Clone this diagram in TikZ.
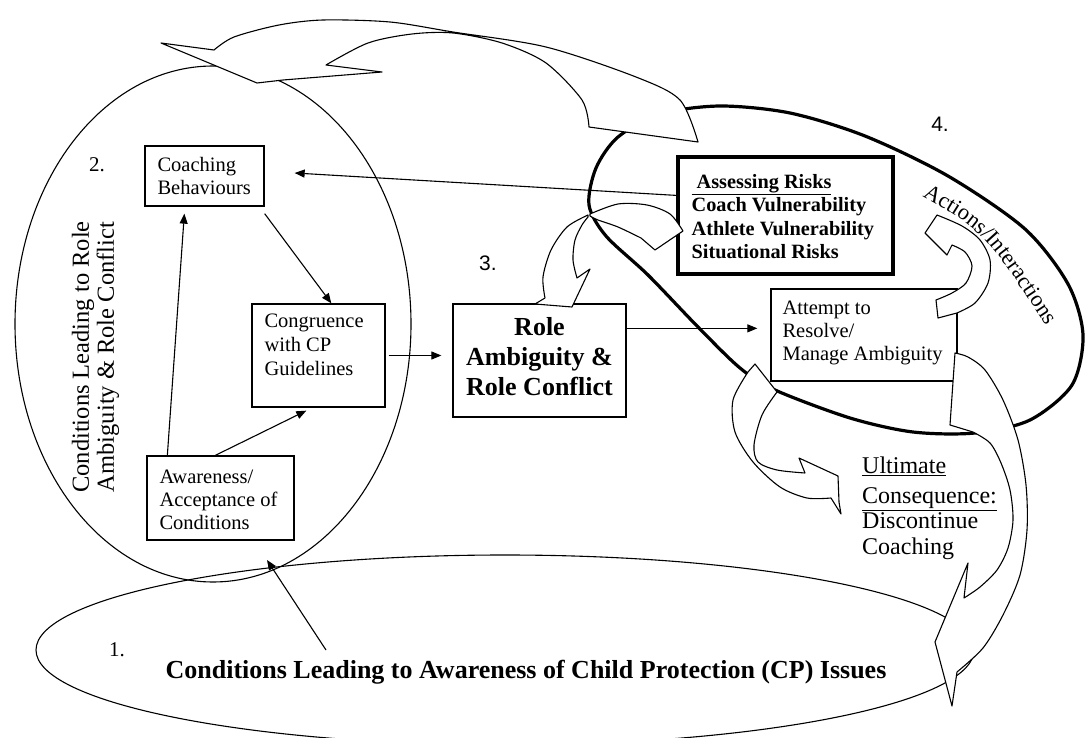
\documentclass[tikz,border=0pt]{standalone}
\usepackage{fontspec}
\setmainfont{Liberation Serif}
\newfontfamily\numsans{Liberation Sans}
\usetikzlibrary{arrows.meta,calc,decorations.text}

\begin{document}
\begin{tikzpicture}[x=1pt,y=-1pt,
  box/.style={draw, line width=1.3pt, fill=white, inner sep=0pt},
  thickbox/.style={box, line width=3.2pt},
  body/.style={font=\fontsize{20.5}{23}\selectfont, align=left, inner sep=0pt},
  conn/.style={line width=1.1pt, -{Triangle[length=10pt,width=8pt]}},
  blockarrow/.style={draw, fill=white, line width=1.1pt, line join=round},
  region/.style={line width=1.1pt},
  numlabel/.style={font=\fontsize{21}{21}\selectfont, inner sep=0pt},
]
\useasboundingbox (0,0) rectangle (1085,738);
\fill[white] (0,0) rectangle (1085,738);

% the three regions
\draw[region] (505,650) ellipse [x radius=469pt, y radius=95pt];
\draw[region] (213,324) ellipse [x radius=198pt, y radius=258pt];
\draw[line width=3.2pt] plot[smooth cycle] coordinates {
  (589,205) (596,168) (618,137) (660,114) (720,106) (790,113) (865,136)
  (948,176) (1025,229) (1068,284) (1083,335) (1072,385) (1030,420)
  (975,433) (913,432) (850,418) (775,390) (740,368) (698,327) (648,275)
  (606,236)};

% boxes
\node[box, minimum width=119pt, minimum height=60pt] (coach) at (204.5,176) {};
\node[body, anchor=west] (coachtxt) at ($(coach.west)+(13,0)$) {Coaching\\Behaviours};

\node[box, minimum width=133pt, minimum height=103pt] (cong) at (318.5,355.5) {};
\node[body, font=\fontsize{20.5}{24}\selectfont, anchor=north west] (congtxt)
  at ($(cong.north west)+(13,10)$) {Congruence\\with CP\\Guidelines};

\node[box, minimum width=147pt, minimum height=84pt] (aware) at (220.5,498) {};
\node[body, anchor=west] (awaretxt) at ($(aware.west)+(13,2)$) {Awareness/\\Acceptance of\\Conditions};

\node[box, minimum width=173pt, minimum height=113pt] (role) at (539.5,360.5) {};
\node[align=center, inner sep=0pt, font=\bfseries\fontsize{26}{30}\selectfont] (roletxt)
  at ($(role.center)+(0,-4)$) {Role\\Ambiguity \&\\Role Conflict};

\node[thickbox, minimum width=215pt, minimum height=117pt] (assess) at (785.5,215.5) {};
\node[body, font=\bfseries\fontsize{20.3}{23.5}\selectfont, anchor=west] (assesstxt)
      at ($(assess.west)+(15,1)$)
      {\underline{\ Assessing Risks}\\Coach Vulnerability\\Athlete Vulnerability\\Situational Risks};

\node[box, minimum width=186pt, minimum height=92pt] (attempt) at (864,335) {};
\node[body, anchor=west] (attempttxt) at ($(attempt.west)+(12,-2)$) {Attempt to\\Resolve/\\Manage Ambiguity};

% connectors
\draw[conn] ($(aware.north west)+(21,0)$) -- ($(coach.south west)+(40,7)$);
\draw[conn] ($(coach.south east)+(0,7)$) -- ($(cong.north west)+(80,0)$);
\draw[conn] ($(aware.north west)+(69,0)$) -- ($(cong.south west)+(55,3)$);
\draw[conn] ($(cong.east)+(3,0)$) -- ($(role.west |- cong.east)+(-11,0)$);
\draw[conn] ($(assess.north west)+(0,40)$) -- ($(coach.east)+(30,-3)$);
\draw[conn] ($(role.north east)+(0,25)$) -- ($(attempt.west |- role.north east)+(-13,25)$);
\coordinate (cpstart) at (326,650);
\coordinate (cpend) at (267,560);
\draw[conn] (cpstart) -- (cpend);

% curved block arrows
\draw[blockarrow] (161,43) -- plot[smooth] coordinates {(214,50) (234,37) (279,25) (323,20)
  (390,22) (453,32) (546,47) (636,77) (680,100) (698,142)}
  -- plot[smooth] coordinates {(589,127) (582,100) (546,63) (502,43) (453,33) (412,34)
  (368,43) (326,65)} -- (382,72) -- (283,80) -- (257,83) -- cycle;

\draw[blockarrow] plot[smooth] coordinates {(590,214) (618,204) (647,205) (670,214) (683,231)}
  -- (655,250) -- plot[smooth] coordinates {(641,238) (618,227) (598,220) (590,216)} -- cycle;

\draw[blockarrow] plot[smooth] coordinates {(588,215) (567,227) (551,250) (543,277) (545,298)}
  -- (535,304) -- (572,307) -- (590,269)
  -- plot[smooth] coordinates {(577,278) (573,260) (575,240) (582,225) (588,217)} -- cycle;

\draw[blockarrow] (936,300) -- (938,318) -- plot[smooth] coordinates {(957,313) (975,303)
  (988,283) (990,260) (980,240) (962,226) (937,215)} -- (925,233) -- (947,255)
  -- plot[smooth] coordinates {(952,245) (965,252) (972,266) (966,283) (952,293) (936,300)} -- cycle;

\draw[blockarrow] (748,372) -- (755,364) -- plot[smooth] coordinates {(777,392) (762,415)
  (754,445) (758,462) (777,470) (805,473)} -- (799,458) -- (838,476) -- (839,502) -- (841,514)
  -- plot[smooth] coordinates {(831,498) (807,498) (780,487) (753,462) (735,432) (733,400)
  (748,372)} -- cycle;

\draw[blockarrow] (955,353) -- (950,425) -- plot[smooth] coordinates {(973,432) (990,443)
  (1001,463) (1010,490) (1013,520) (1008,548) (997,570) (980,587) (964,598)}
  -- (968,563) -- (935,642) -- (952,706)
  -- plot[smooth] coordinates {(957,672) (983,648) (1003,615) (1020,575) (1027,530)
  (1026,485) (1018,440) (1003,400) (985,370) (968,357) (955,353)} -- cycle;

% labels
\node[numlabel] (n1) at (117,650) {1.};
\node[numlabel] (n2) at (97,165) {2.};
\node[numlabel, font=\numsans\fontsize{21}{21}\selectfont] (n3) at (488,263) {3.};
\node[numlabel, font=\numsans\fontsize{21}{21}\selectfont] (n4) at (940,124) {4.};

\node[rotate=90, align=center, inner sep=0pt, font=\fontsize{24.5}{25}\selectfont] (lbl2)
  at (95.5,357) {Conditions Leading to Role\\Ambiguity \& Role Conflict};

\node[font=\bfseries\fontsize{26}{26}\selectfont, inner sep=0pt] (title) at (526,672)
  {Conditions Leading to Awareness of Child Protection (CP) Issues};

\node[anchor=north west, align=left, inner sep=0pt, font=\fontsize{24}{25.5}\selectfont] (ult)
  at (862,457) {\underline{Ultimate}\\[4pt]\underline{Consequence:}\\Discontinue\\Coaching};

\path[decorate, decoration={text along path, text align=center,
  text={|\fontsize{22.5}{22.5}\selectfont|Actions/Interactions}}]
  (920,195) .. controls (984,231) .. (1048,328);
\end{tikzpicture}
\end{document}
